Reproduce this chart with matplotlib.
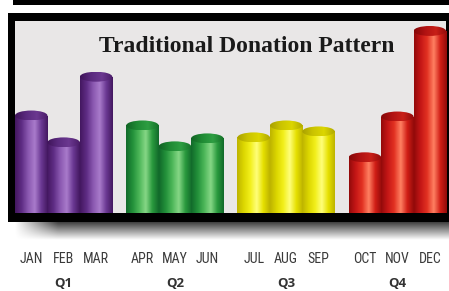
import numpy as np
import matplotlib
matplotlib.use("Agg")
import matplotlib.pyplot as plt
from matplotlib.colors import LinearSegmentedColormap
from matplotlib.patches import Rectangle, Ellipse
from matplotlib import font_manager
from matplotlib.font_manager import FontProperties

# ---------------- data ----------------
months = ["JAN", "FEB", "MAR", "APR", "MAY", "JUN",
          "JUL", "AUG", "SEP", "OCT", "NOV", "DEC"]
quarters = ["Q1", "Q2", "Q3", "Q4"]
donations = [98, 71, 137, 88, 67, 75, 76, 88, 82, 56, 97, 183]
title = "Traditional Donation Pattern"

# ---------------- style ----------------
W, H = 449, 291
DPI = 100
body_stops = {
    "Q1": ["#43175f", "#5e2c84", "#8a58b0", "#a97bcb", "#6a3892", "#43175f"],
    "Q2": ["#11692a", "#22903a", "#4cb658", "#86d786", "#2a9a3e", "#11692a"],
    "Q3": ["#bdb300", "#dcd600", "#f2ef1a", "#ffff7a", "#e6e000", "#bdb300"],
    "Q4": ["#920a0a", "#c41616", "#e23222", "#ff8062", "#d01e16", "#920a0a"],
}
cap_stops = {
    "Q1": ["#3e1458", "#5a2a7e", "#6b3890", "#4a1c68"],
    "Q2": ["#116224", "#1f8a34", "#2e9e42", "#147028"],
    "Q3": ["#a9a000", "#cbc400", "#dcd600", "#b0a800"],
    "Q4": ["#840808", "#b01212", "#c82018", "#900a0a"],
}
inner_bg = "#e9e7e7"


def find_condensed():
    prefs = ["LiberationSansNarrow-Regular", "LiberationSansNarrow",
             "RobotoCondensed-Regular", "RobotoCondensed", "OpenSans_Condensed",
             "OpenSansCondensed", "DejaVuSansCondensed.", "NotoSansDisplay-Condensed",
             "NotoSans-Condensed."]
    entries = font_manager.fontManager.ttflist
    for p in prefs:
        for e in entries:
            base = e.fname.split("/")[-1]
            if p.lower() in base.lower() and e.style == "normal":
                return FontProperties(fname=e.fname)
    for e in entries:
        base = e.fname.split("/")[-1].lower()
        if ("condensed" in base or "narrow" in base) and "bold" not in base \
                and "italic" not in base and "oblique" not in base and "light" not in base:
            return FontProperties(fname=e.fname)
    return FontProperties(family="DejaVu Sans", stretch="condensed")


month_fp = find_condensed()
month_fp.set_size(10)

fig = plt.figure(figsize=(W / DPI, H / DPI), dpi=DPI)
fig.patch.set_facecolor("white")

# background / decoration axes in pixel space
bg = fig.add_axes([0, 0, 1, 1], zorder=0)
bg.axis("off")
bg.add_patch(Rectangle((13, 0), W - 13, 5, facecolor="black", lw=0))
shade = np.linspace(0.8, 0.0, 64).reshape(-1, 1)
horiz = np.clip(np.linspace(0, 1, 256) * 10, 0, 1).reshape(1, -1)
alpha = shade * horiz
rgba = np.zeros(alpha.shape + (4,))
rgba[..., 3] = alpha
bg.imshow(rgba, extent=(14, W, 240, 221), aspect="auto", zorder=1,
          interpolation="bilinear")
bg.add_patch(Rectangle((8, 13), W, 209, facecolor="black", lw=0, zorder=2))
bg.set_xlim(0, W)
bg.set_ylim(H, 0)

# main axes (inner panel)
left, right, top, bottom = 15, 446, 21, 213
ax = fig.add_axes([left / W, 1 - bottom / H, (right - left) / W, (bottom - top) / H],
                  zorder=1)
ax.set_facecolor(inner_bg)
for s in ax.spines.values():
    s.set_visible(False)

gap = 0.43
xs = np.array([i + (i // 3) * gap for i in range(len(months))]) + 0.5
ymax = 193
cap_h = 10

bars = ax.bar(xs, donations, width=1.0, facecolor="none", lw=0, zorder=2)
grad = np.linspace(0, 1, 256).reshape(1, -1)
for i, patch in enumerate(bars.patches):
    q = quarters[i // 3]
    x, w, h = patch.get_x(), patch.get_width(), patch.get_height()
    cm = LinearSegmentedColormap.from_list("b%d" % i, body_stops[q])
    im = ax.imshow(grad, cmap=cm, extent=(x, x + w, 0, h), aspect="auto",
                   zorder=2, interpolation="bilinear")
    im.set_clip_path(patch)
    el = Ellipse((x + w / 2, h), w, cap_h, facecolor="none", lw=0, zorder=3)
    ax.add_patch(el)
    cmc = LinearSegmentedColormap.from_list("c%d" % i, cap_stops[q])
    imc = ax.imshow(grad, cmap=cmc, extent=(x, x + w, h - cap_h / 2, h + cap_h / 2),
                    aspect="auto", zorder=3, interpolation="bilinear")
    imc.set_clip_path(el)

ax.set_xlim(0, xs[-1] + 0.5)
ax.set_ylim(0, ymax)
ax.set_yticks([])
ax.set_xticks(xs)
ax.set_xticklabels(months, color="#3a3a3a")
for lab in ax.get_xticklabels():
    lab.set_fontproperties(month_fp)
ax.tick_params(axis="x", length=0, pad=28)

trans = matplotlib.transforms.blended_transform_factory(ax.transData, ax.transAxes)
for qi, q in enumerate(quarters):
    ax.text(xs[qi * 3 + 1], -0.367, q, transform=trans, ha="center", va="center",
            fontsize=9.5, fontweight="bold", color="#333333", fontfamily="Open Sans")

ax.text(0.538, 0.865, title, transform=ax.transAxes, ha="center", va="center",
        fontsize=17, fontweight="bold", color="#1a1a1a", fontfamily="Liberation Serif")

fig.savefig("out.png", dpi=DPI)
